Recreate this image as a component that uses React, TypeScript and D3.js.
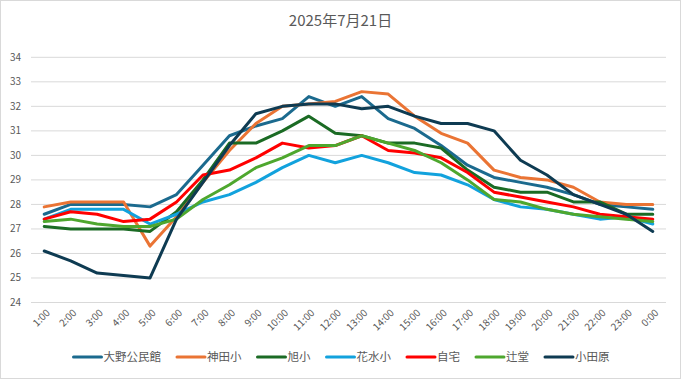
import React from "react";
import * as d3 from "d3";

const hours = ["1:00","2:00","3:00","4:00","5:00","6:00","7:00","8:00","9:00","10:00","11:00","12:00","13:00","14:00","15:00","16:00","17:00","18:00","19:00","20:00","21:00","22:00","23:00","0:00"];

const oono = [27.6, 28.0, 28.0, 28.0, 27.9, 28.4, 29.6, 30.8, 31.2, 31.5, 32.4, 32.0, 32.4, 31.5, 31.1, 30.4, 29.6, 29.1, 28.9, 28.7, 28.4, 28.0, 27.9, 27.8];
const kanda = [27.9, 28.1, 28.1, 28.1, 26.3, 27.5, 28.9, 30.2, 31.3, 32.0, 32.1, 32.2, 32.6, 32.5, 31.6, 30.9, 30.5, 29.4, 29.1, 29.0, 28.7, 28.1, 28.0, 28.0];
const asahi = [27.1, 27.0, 27.0, 27.0, 26.9, 27.7, 29.0, 30.5, 30.5, 31.0, 31.6, 30.9, 30.8, 30.5, 30.5, 30.3, 29.4, 28.7, 28.5, 28.5, 28.1, 28.1, 27.6, 27.6];
const hanamizu = [27.4, 27.8, 27.8, 27.8, 27.2, 27.6, 28.1, 28.4, 28.9, 29.5, 30.0, 29.7, 30.0, 29.7, 29.3, 29.2, 28.8, 28.2, 27.9, 27.8, 27.6, 27.4, 27.5, 27.2];
const jitaku = [27.4, 27.7, 27.6, 27.3, 27.4, 28.1, 29.2, 29.4, 29.9, 30.5, 30.3, 30.4, 30.8, 30.2, 30.1, 29.9, 29.3, 28.5, 28.3, 28.1, 27.9, 27.6, 27.5, 27.4];
const tsujido = [27.3, 27.4, 27.2, 27.1, 27.1, 27.4, 28.2, 28.8, 29.5, 29.9, 30.4, 30.4, 30.8, 30.5, 30.2, 29.7, 29.0, 28.2, 28.1, 27.8, 27.6, 27.5, 27.4, 27.3];
const odawara = [26.1, 25.7, 25.2, 25.1, 25.0, 27.4, 28.9, 30.4, 31.7, 32.0, 32.1, 32.1, 31.9, 32.0, 31.6, 31.3, 31.3, 31.0, 29.8, 29.2, 28.4, 28.0, 27.6, 26.9];

const seriesNames = ["大野公民館", "神田小", "旭小", "花水小", "自宅", "辻堂", "小田原"];
const seriesValues = [oono, kanda, asahi, hanamizu, jitaku, tsujido, odawara];
const seriesColors = ["#1B6A8E", "#EA7434", "#1B6B24", "#12A2DD", "#FF0000", "#4EA72E", "#0E3B52"];
const yTicks = [24, 25, 26, 27, 28, 29, 30, 31, 32, 33, 34];
const title = "2025年7月21日";

const W = 681, H = 379;
const FONT = "'Noto Sans CJK JP', 'Noto Sans', sans-serif";
const TXT = "#595959";

export default function App() {
  const x = d3.scaleBand<string>().domain(hours).range([31, 666]);
  const y = d3.scaleLinear().domain([24, 34]).range([302.5, 57.3]);
  const line = d3.line<number>()
    .x((_, i) => (x(hours[i]) as number) + x.bandwidth() / 2)
    .y((v) => y(v));

  const legFont = 11.5;
  const lineLen = 28;
  const items = seriesNames.map((n) => ({ n, w: lineLen + 2 + n.length * legFont }));
  const gap = 16;
  const total = d3.sum(items, (d) => d.w) + gap * (items.length - 1);
  let cx = W / 2 - total / 2 + 1;
  const legendPos = items.map((it) => { const p = cx; cx += it.w + gap; return p; });

  return (
    <svg width={W} height={H} style={{ position: "absolute", left: 0, top: 0, background: "#fff" }} fontFamily={FONT}>
      <rect x={0.5} y={0.5} width={W - 1} height={H - 1} fill="#fff" stroke="#D9D9D9" />
      <text x={W / 2} y={26} textAnchor="middle" fontSize={15} fill={TXT}>{title}</text>
      {yTicks.map((t) => (
        <g key={t}>
          <line x1={31} x2={666} y1={y(t)} y2={y(t)} stroke="#D9D9D9" strokeWidth={1} />
          <text x={21} y={y(t)} dy="0.35em" textAnchor="end" fontSize={10} fill={TXT}>{t}</text>
        </g>
      ))}
      {hours.map((h) => {
        const px = (x(h) as number) + x.bandwidth() / 2;
        return (
          <text key={h} transform={`translate(${px + 4},${311}) rotate(-45)`} textAnchor="end" dy="0.35em" fontSize={10} fill={TXT}>{h}</text>
        );
      })}
      {seriesValues.map((vals, si) => (
        <path key={si} d={line(vals) || ""} fill="none" stroke={seriesColors[si]} strokeWidth={3} strokeLinejoin="round" strokeLinecap="round" />
      ))}
      {items.map((it, i) => (
        <g key={it.n}>
          <line x1={legendPos[i]} x2={legendPos[i] + lineLen} y1={357} y2={357} stroke={seriesColors[i]} strokeWidth={3} strokeLinecap="round" />
          <text x={legendPos[i] + lineLen + 2} y={357} dy="0.35em" fontSize={legFont} fill={TXT}>{it.n}</text>
        </g>
      ))}
    </svg>
  );
}
